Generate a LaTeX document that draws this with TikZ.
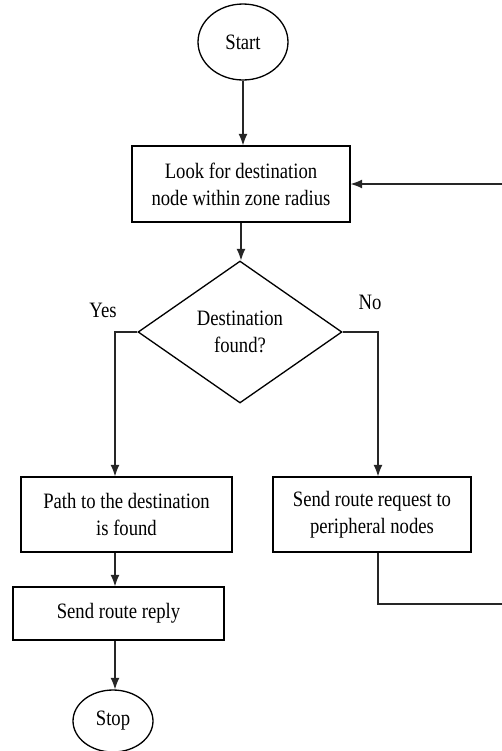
\documentclass[tikz,border=0pt]{standalone}
\usepackage{fontspec}
\setmainfont{Liberation Serif}[FakeStretch=0.85]
\usetikzlibrary{shapes.geometric}
\usetikzlibrary{arrows.meta}
\usetikzlibrary{calc}
\tikzset{%
    flowtext/.style={font=\fontsize{12.5}{15.5}\selectfont,align=center,text=black},
    terminal/.style={flowtext,shape=ellipse,draw,line width=0.75pt,inner sep=0pt},
    process/.style={flowtext,shape=rectangle,draw,line width=0.75pt,inner sep=0pt},
    decision/.style={flowtext,shape=diamond,draw,line width=0.75pt,inner sep=0pt,aspect=1.44},
    flow/.style={line width=0.65pt,draw=black!85,-{Latex[length=2.3mm,width=1.8mm]}},
    branch/.style={flowtext},
}
\begin{document}
\begin{tikzpicture}[x=0.02cm,y=-0.02cm]
      \useasboundingbox (0,0) rectangle (502,751);
      \clip (0,0) rectangle (502,751);

      \node [terminal,minimum width=1.8cm,minimum height=1.52cm] (start) at (243,42) {Start};
      \node [process,minimum width=4.36cm,minimum height=1.52cm] (look) at (241,184) {Look for destination\\node within zone radius};
      \node [decision,minimum width=4.08cm,minimum height=2.84cm] (found) at (240,332) {Destination\\found?};
      \node [process,minimum width=4.22cm,minimum height=1.5cm] (pathfound) at (126.5,514.5) {Path to the destination\\is found};
      \node [process,minimum width=3.96cm,minimum height=1.5cm] (request) at (372,514.5) {Send route request to\\peripheral nodes};
      \node [process,minimum width=4.22cm,minimum height=1.06cm] (reply) at (118.5,613.5) {Send route reply};
      \node [terminal,minimum width=1.6cm,minimum height=1.24cm] (stop) at (113,721) {Stop};

      \node [branch] (yes) at (103,310) {Yes};
      \node [branch] (no) at (370,302) {No};

      \coordinate (yescol) at (115,0);
      \coordinate (nocol) at (378,0);
      \coordinate (loopback) at (512,604);

      \draw [flow] (start.south) -- (start.south |- look.north);
      \draw [flow] (look.south) -- (look.south |- found.north);
      \draw [flow] (found.west) -| (yescol |- pathfound.north);
      \draw [flow] (found.east) -| (nocol |- request.north);
      \draw [flow] (yescol |- pathfound.south) -- (yescol |- reply.north);
      \draw [flow] (yescol |- reply.south) -- (yescol |- stop.north);
      \draw [flow] (nocol |- request.south) |- (loopback) |- (look.east);
    \end{tikzpicture}
\end{document}
